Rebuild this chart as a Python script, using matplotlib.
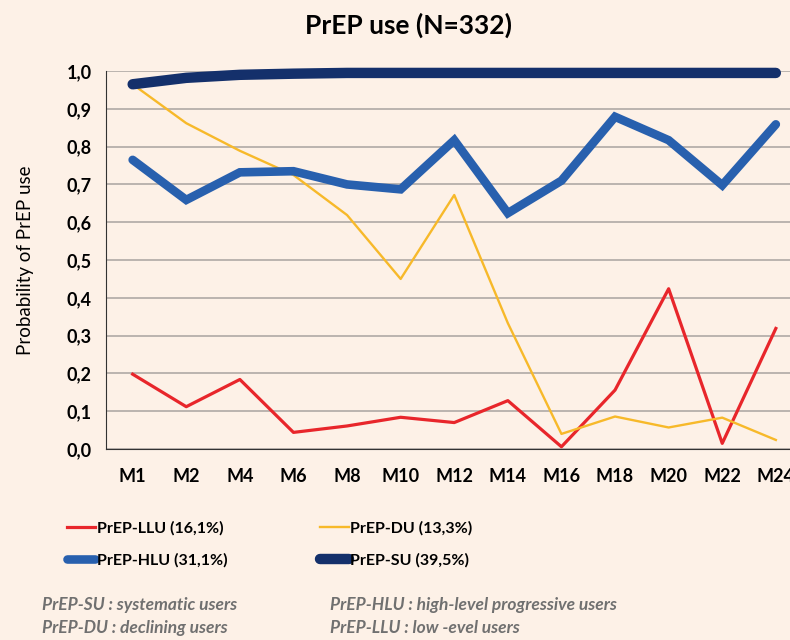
import numpy as np
import matplotlib
matplotlib.use("Agg")
import matplotlib.pyplot as plt

plt.rcParams['font.family'] = ['Lato', 'DejaVu Sans']

months = ['M1', 'M2', 'M4', 'M6', 'M8', 'M10', 'M12', 'M14', 'M16', 'M18', 'M20', 'M22', 'M24']
llu = [0.198, 0.112, 0.184, 0.044, 0.061, 0.084, 0.070, 0.128, 0.006, 0.156, 0.424, 0.015, 0.319]
du = [0.965, 0.862, 0.789, 0.725, 0.619, 0.450, 0.672, 0.333, 0.040, 0.086, 0.057, 0.083, 0.024]
hlu = [0.765, 0.659, 0.732, 0.735, 0.700, 0.687, 0.817, 0.624, 0.710, 0.879, 0.817, 0.698, 0.859]
su = [0.965, 0.982, 0.990, 0.993, 0.995, 0.995, 0.995, 0.995, 0.995, 0.995, 0.995, 0.995, 0.995]
labels = ['PrEP-LLU (16,1%)', 'PrEP-HLU (31,1%)', 'PrEP-DU (13,3%)', 'PrEP-SU (39,5%)']

bg = '#fdf1e7'
fig = plt.figure(figsize=(7.9, 6.4), dpi=100, facecolor=bg)
ax = fig.add_axes([0.134, 0.2984, 0.882, 0.5906], facecolor=bg)

x = np.arange(len(months))
l1, = ax.plot(x, llu, color='#e8262b', lw=2.3, zorder=3)
l3, = ax.plot(x, du, color='#f7b92a', lw=1.7, zorder=3)
l2, = ax.plot(x, hlu, color='#2860ae', lw=6.2, solid_capstyle='round', solid_joinstyle='miter', zorder=4)
l4, = ax.plot(x, su, color='#14306b', lw=7.5, solid_capstyle='round', zorder=5, clip_on=False)

ax.set_xlim(-0.5, len(months) - 0.5)
ax.set_ylim(0, 1.0)
ax.set_yticks(np.arange(0, 1.01, 0.1))
ax.set_yticklabels([f'{v:.1f}'.replace('.', ',') for v in np.arange(0, 1.01, 0.1)],
                   fontsize=13, fontweight='bold')
ax.set_xticks(x)
ax.set_xticklabels(months, fontsize=13, fontweight='bold')
ax.tick_params(length=0, pad=10)
ax.tick_params(axis='x', pad=14)
ax.grid(axis='y', color='#b0aaa5', lw=1.2)
ax.set_axisbelow(True)
for s in ['top', 'right']:
    ax.spines[s].set_visible(False)
ax.spines['left'].set_color('#333333')
ax.spines['bottom'].set_color('#333333')
ax.set_ylabel('Probability of PrEP use', fontsize=13.5, labelpad=24)

fig.text(0.517, 0.96, 'PrEP use (N=332)', ha='center', va='center', fontsize=19, fontweight='bold')

fig.legend([l1, l2, l3, l4], labels, ncol=2, loc='upper left', bbox_to_anchor=(0.066, 0.208),
           frameon=False, prop={'size': 11.5, 'weight': 'bold'}, handlelength=1.8, handletextpad=0.1,
           columnspacing=5.8, labelspacing=1.1)

note_kw = dict(fontsize=12.5, style='italic', fontweight='bold', color='#707070', va='center')
fig.text(0.053, 0.054, 'PrEP-SU : systematic users', **note_kw)
fig.text(0.053, 0.018, 'PrEP-DU : declining users', **note_kw)
fig.text(0.418, 0.054, 'PrEP-HLU : high-level progressive users', **note_kw)
fig.text(0.418, 0.018, 'PrEP-LLU : low -evel users', **note_kw)

fig.savefig('out.png', dpi=100, facecolor=bg)
